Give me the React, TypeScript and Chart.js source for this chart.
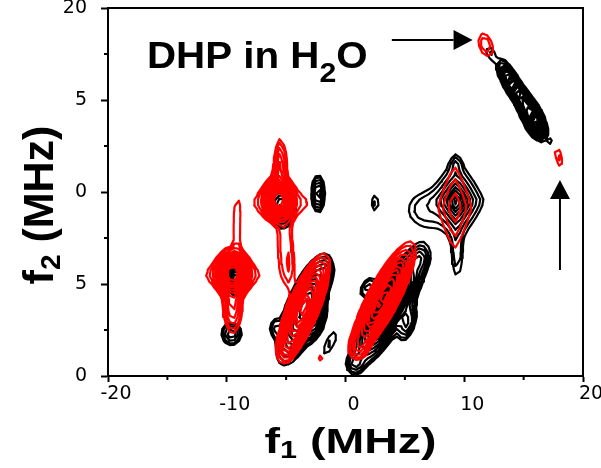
import { useEffect, useRef } from "react";
import { Chart, registerables } from "chart.js";

Chart.register(...registerables);

// Axis ticks (MHz)
const xTickValues = [-20, -10, 0, 10, 20];
const xTickLabels = ["-20", "-10", "0", "10", "20"];
const xMinorTicks = [-15, -5, 5, 15];
const yTickValues = [0, 5, 10, 15, 20];
const yTickLabels = ["0", "5", "0", "5", "20"];
const yMinorTicks = [2.5, 7.5, 12.5, 17.5];

// Contour levels (fraction of the strongest cross peak)
const contourLevels = [0.055, 0.08, 0.12, 0.17, 0.23, 0.3, 0.38, 0.47, 0.57, 0.68, 0.8, 0.92];

// Cross peaks: f1, f2, spread along axis, spread across axis, axis angle (deg), amplitude, shape exponent
const redPeaks = [
  [11.8, 18.0, 0.6, 0.42, -45, 0.11, 2],
  [17.95, 11.9, 0.55, 0.26, -65, 0.09, 2],
  [9.2, 9.15, 0.7, 1.12, 0, 0.17, 1.2],
  [-5.65, 9.6, 0.6, 0.55, 0, 1, 2],
  [-5.4, 9.4, 2.0, 0.55, 0, 0.1, 2],
  [-5.5, 11.3, 0.3, 0.9, 0, 0.25, 2],
  [-5.1, 7.3, 0.5, 1.5, 0, 0.11, 2],
  [-4.7, 5.8, 0.3, 0.8, 0, 0.07, 2],
  [-9.5, 5.6, 0.68, 0.58, 0, 1, 2],
  [-9.5, 5.5, 1.9, 0.45, 0, 0.1, 2],
  [-9.15, 8.0, 0.25, 1.3, 0, 0.09, 2],
  [-9.5, 3.9, 0.45, 0.9, 0, 0.25, 2],
  [-3.55, 3.7, 1.45, 0.5, 55, 1, 2],
  [-4.9, 1.6, 0.4, 0.4, 0, 0.12, 2],
  [3.15, 4.2, 1.65, 0.48, 49, 1, 2],
  [1.2, 1.6, 0.45, 0.4, 0, 0.12, 2],
  [-2.0, 1.0, 0.15, 0.2, 0, 0.12, 2],
];

const blackPeaks = [
  [12.2, 17.55, 0.4, 0.28, -45, 0.09, 2],
  [13.9, 16.0, 0.7, 0.27, -47, 0.7, 2],
  [15.8, 14.0, 0.65, 0.33, -47, 1, 2],
  [14.9, 15.0, 0.5, 0.3, -47, 0.4, 2],
  [17.3, 12.7, 0.2, 0.2, 0, 0.07, 2],
  [9.3, 9.5, 0.58, 0.55, 0, 0.8, 1.2],
  [6.5, 9.0, 1.1, 0.7, 0, 0.09, 2],
  [9.4, 6.5, 0.35, 1.0, 0, 0.09, 2],
  [9.3, 11.5, 0.3, 0.3, 0, 0.08, 2],
  [2.5, 9.4, 0.3, 0.42, 0, 0.09, 2],
  [-2.3, 9.9, 0.28, 0.51, 0, 0.4, 2],
  [-5.4, 9.2, 0.6, 0.6, 0, 0.4, 2],
  [-9.2, 5.2, 0.45, 0.45, 0, 0.3, 2],
  [-9.6, 2.3, 0.5, 0.36, 0, 0.22, 2],
  [-3.5, 3.6, 1.5, 0.6, 55, 0.9, 2],
  [-5.9, 2.6, 0.35, 0.35, 0, 0.12, 2],
  [-1.6, 5.7, 0.35, 0.35, 0, 0.12, 2],
  [-2.5, 2.9, 0.6, 0.35, 55, 0.3, 2],
  [-1.3, 1.8, 0.75, 0.3, 50, 0.09, 2],
  [3.7, 3.75, 1.9, 0.6, 46, 0.9, 2],
  [0.8, 0.7, 0.4, 0.3, 0, 0.15, 2],
  [6.3, 6.4, 0.4, 0.35, 0, 0.12, 2],
  [1.9, 4.8, 0.5, 0.3, 30, 0.15, 2],
  [5.2, 2.9, 0.6, 0.35, 60, 0.25, 2],
];

// Annotation arrows (MHz): tail and tip
const arrowTails = [
  [3.9, 18.26],
  [18.06, 5.76],
];
const arrowTips = [
  [10.7, 18.26],
  [18.06, 10.65],
];

type Pt = { x: number; y: number };

function intensity(peaks: number[][], x: number, y: number): number {
  let s = 0;
  for (const [cx, cy, su, sv, ang, amp, p] of peaks) {
    const a = (ang * Math.PI) / 180;
    const dx = x - cx;
    const dy = y - cy;
    const u = (dx * Math.cos(a) + dy * Math.sin(a)) / su;
    const v = (-dx * Math.sin(a) + dy * Math.cos(a)) / sv;
    s += amp * Math.exp(-0.5 * (Math.pow(Math.abs(u), p) + Math.pow(Math.abs(v), p)));
  }
  return s;
}

// marching-squares edge pairs per cell case (0 bottom, 1 right, 2 top, 3 left)
const CASES: number[][][] = [
  [], [[3, 0]], [[0, 1]], [[3, 1]], [[1, 2]], [[3, 0], [1, 2]], [[0, 2]], [[3, 2]],
  [[2, 3]], [[0, 2]], [[0, 1], [2, 3]], [[1, 2]], [[1, 3]], [[0, 1]], [[0, 3]], [],
];

// Contours on a coarse spectral grid (linear interpolation along cell edges)
function contourLines(peaks: number[][], levels: number[]): Pt[] {
  const dx = 0.38;
  const dy = 0.32;
  const nx = Math.floor(40 / dx) + 1;
  const ny = Math.floor(20 / dy) + 1;
  const g = new Float64Array(nx * ny);
  for (let j = 0; j < ny; j++) {
    for (let i = 0; i < nx; i++) g[j * nx + i] = intensity(peaks, -20 + i * dx, j * dy);
  }
  const pts: Pt[] = [];
  for (const L of levels) {
    for (let j = 0; j < ny - 1; j++) {
      for (let i = 0; i < nx - 1; i++) {
        const a = g[j * nx + i];
        const b = g[j * nx + i + 1];
        const c = g[(j + 1) * nx + i + 1];
        const d = g[(j + 1) * nx + i];
        const idx = (a >= L ? 1 : 0) | (b >= L ? 2 : 0) | (c >= L ? 4 : 0) | (d >= L ? 8 : 0);
        if (idx === 0 || idx === 15) continue;
        const x0 = -20 + i * dx;
        const y0 = j * dy;
        const edge = (k: number): Pt => {
          if (k === 0) return { x: x0 + (dx * (L - a)) / (b - a), y: y0 };
          if (k === 1) return { x: x0 + dx, y: y0 + (dy * (L - b)) / (c - b) };
          if (k === 2) return { x: x0 + (dx * (L - d)) / (c - d), y: y0 + dy };
          return { x: x0, y: y0 + (dy * (L - a)) / (d - a) };
        };
        for (const [p, q] of CASES[idx]) {
          pts.push(edge(p), edge(q), { x: NaN, y: NaN });
        }
      }
    }
  }
  return pts;
}

type Part = { text: string; size: number; drop: number };

function drawRich(ctx: CanvasRenderingContext2D, parts: Part[], family: string, stretch: number, align: "left" | "center") {
  const widths = parts.map((p) => {
    ctx.font = `bold ${p.size}px ${family}`;
    return ctx.measureText(p.text).width;
  });
  const total = widths.reduce((s, w) => s + w, 0);
  ctx.scale(stretch, 1);
  let x = align === "center" ? -total / 2 : 0;
  ctx.textBaseline = "alphabetic";
  ctx.textAlign = "left";
  parts.forEach((p, i) => {
    ctx.font = `bold ${p.size}px ${family}`;
    ctx.fillText(p.text, x, p.drop);
    x += widths[i];
  });
}

const FAMILY = '"Liberation Sans", Arial, Helvetica, sans-serif';

const decorations = {
  id: "decorations",
  afterDraw(chart: any) {
    const { ctx, chartArea: a, scales } = chart;
    const xs = scales.x;
    const ys = scales.y;
    ctx.save();
    ctx.strokeStyle = "#000";
    ctx.fillStyle = "#000";
    ctx.lineWidth = 2;
    // frame: top and right sides
    ctx.beginPath();
    ctx.moveTo(a.left - 1, a.top);
    ctx.lineTo(a.right, a.top);
    ctx.lineTo(a.right, a.bottom + 1);
    ctx.stroke();
    // minor ticks
    ctx.beginPath();
    for (const v of xMinorTicks) {
      const px = xs.getPixelForValue(v);
      ctx.moveTo(px, a.bottom);
      ctx.lineTo(px, a.bottom + 4);
    }
    for (const v of yMinorTicks) {
      const py = ys.getPixelForValue(v);
      ctx.moveTo(a.left - 4, py);
      ctx.lineTo(a.left, py);
    }
    ctx.stroke();

    // arrows
    arrowTails.forEach((t, i) => {
      const x1 = xs.getPixelForValue(t[0]);
      const y1 = ys.getPixelForValue(t[1]);
      const x2 = xs.getPixelForValue(arrowTips[i][0]);
      const y2 = ys.getPixelForValue(arrowTips[i][1]);
      const ang = Math.atan2(y2 - y1, x2 - x1);
      const head = 19;
      const half = 10;
      ctx.beginPath();
      ctx.moveTo(x1, y1);
      ctx.lineTo(x2 - head * Math.cos(ang), y2 - head * Math.sin(ang));
      ctx.stroke();
      ctx.beginPath();
      ctx.moveTo(x2, y2);
      ctx.lineTo(x2 - head * Math.cos(ang) - half * Math.sin(ang), y2 - head * Math.sin(ang) + half * Math.cos(ang));
      ctx.lineTo(x2 - head * Math.cos(ang) + half * Math.sin(ang), y2 - head * Math.sin(ang) - half * Math.cos(ang));
      ctx.closePath();
      ctx.fill();
    });

    // sample label
    ctx.save();
    ctx.translate(a.left + 39, a.top + 60);
    drawRich(
      ctx,
      [
        { text: "DHP in H", size: 36, drop: 0 },
        { text: "2", size: 27, drop: 14 },
        { text: "O", size: 36, drop: 0 },
      ],
      FAMILY,
      1.12,
      "left"
    );
    ctx.restore();

    // x-axis title
    ctx.save();
    ctx.translate((a.left + a.right) / 2 + 5, a.bottom + 77);
    drawRich(
      ctx,
      [
        { text: "f", size: 35, drop: 0 },
        { text: "1", size: 23, drop: 5 },
        { text: " (MHz)", size: 35, drop: 0 },
      ],
      FAMILY,
      1.33,
      "center"
    );
    ctx.restore();

    // y-axis title
    ctx.save();
    ctx.translate(a.left - 55, (a.top + a.bottom) / 2 + 13);
    ctx.rotate(-Math.PI / 2);
    drawRich(
      ctx,
      [
        { text: "f", size: 43, drop: 0 },
        { text: "2", size: 28, drop: 7 },
        { text: " (MHz)", size: 43, drop: 0 },
      ],
      FAMILY,
      1,
      "center"
    );
    ctx.restore();

    ctx.restore();
  },
};

export default function App() {
  const ref = useRef<HTMLCanvasElement>(null);

  useEffect(() => {
    if (!ref.current) return;
    const red = contourLines(redPeaks, contourLevels);
    const black = contourLines(blackPeaks, contourLevels);
    const lineStyle = {
      showLine: true,
      pointRadius: 0,
      borderWidth: 2.2,
      borderCapStyle: "round" as const,
      borderJoinStyle: "round" as const,
      fill: false,
      tension: 0,
      spanGaps: false,
    };
    const chart = new Chart(ref.current, {
      type: "scatter",
      data: {
        datasets: [
          { ...lineStyle, data: red, borderColor: "#ff0000", backgroundColor: "#ff0000" },
          { ...lineStyle, data: black, borderColor: "#000000", backgroundColor: "#000000" },
        ],
      },
      options: {
        animation: false,
        responsive: false,
        devicePixelRatio: 1,
        events: [],
        layout: { autoPadding: false, padding: { top: 8, right: 18, left: 0, bottom: 0 } },
        plugins: {
          legend: { display: false },
          tooltip: { enabled: false },
          title: { display: false },
        },
        scales: {
          x: {
            type: "linear",
            min: -20,
            max: 20,
            afterBuildTicks: (s: any) => {
              s.ticks = xTickValues.map((v) => ({ value: v }));
            },
            afterFit: (s: any) => {
              s.height = 92;
              s.paddingLeft = 0;
              s.paddingRight = 0;
              s.paddingTop = 0;
              s.paddingBottom = 0;
            },
            grid: { drawOnChartArea: false, drawTicks: true, tickLength: 6, tickWidth: 2, tickColor: "#000" },
            border: { display: true, color: "#000", width: 2 },
            ticks: {
              color: "#000",
              padding: 1,
              labelOffset: 8,
              maxRotation: 0,
              autoSkip: false,
              font: (c: any) => ({
                family: '"DejaVu Sans", sans-serif',
                size: 19,
                lineHeight: c.index === 0 || c.index === xTickValues.length - 1 ? 1.16 : 2.3,
              }),
              callback: (_v: any, i: number) => xTickLabels[i],
            },
          },
          y: {
            type: "linear",
            min: 0,
            max: 20,
            afterBuildTicks: (s: any) => {
              s.ticks = yTickValues.map((v) => ({ value: v }));
            },
            afterFit: (s: any) => {
              s.width = 108;
              s.paddingLeft = 0;
              s.paddingRight = 0;
              s.paddingTop = 0;
              s.paddingBottom = 0;
            },
            grid: { drawOnChartArea: false, drawTicks: true, tickLength: 7, tickWidth: 2, tickColor: "#000" },
            border: { display: true, color: "#000", width: 2 },
            ticks: {
              color: "#000",
              padding: 14,
              autoSkip: false,
              font: { family: '"DejaVu Sans", sans-serif', size: 19 },
              callback: (_v: any, i: number) => yTickLabels[i],
            },
          },
        },
      },
      plugins: [decorations],
    } as any);
    return () => chart.destroy();
  }, []);

  return (
    <div style={{ position: "absolute", left: 0, top: 0, width: 601, height: 468, background: "#fff" }}>
      <canvas ref={ref} width={601} height={468} style={{ display: "block" }} />
    </div>
  );
}
